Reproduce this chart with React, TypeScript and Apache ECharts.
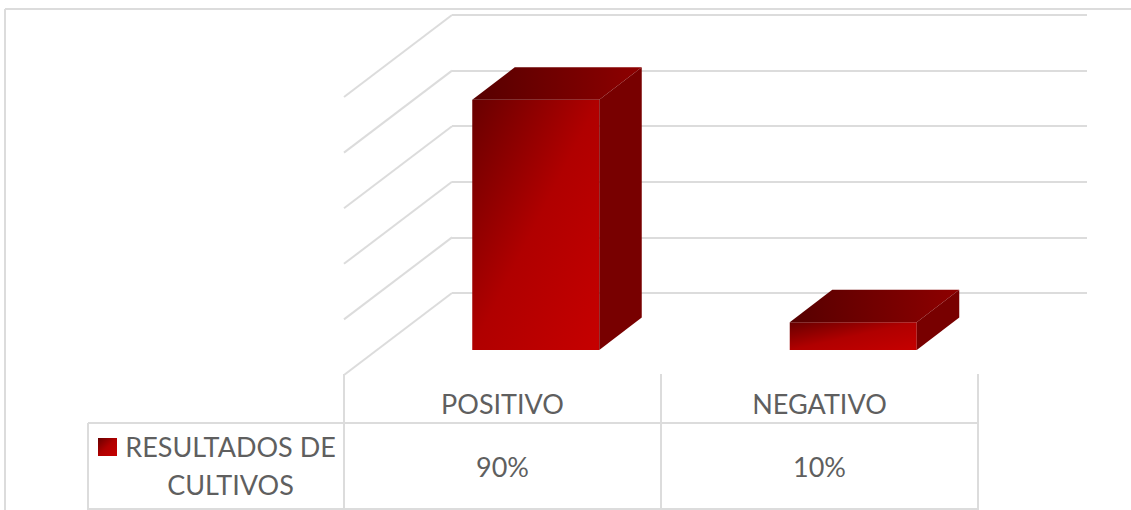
import React, { useEffect, useRef } from "react";
import * as echarts from "echarts";

const categories = ["POSITIVO", "NEGATIVO"];
const values = [90, 10];
const valueLabels = ["90%", "10%"];
const wallTicks = [0, 20, 40, 60, 80, 100];
const legendLines = ["RESULTADOS DE", "CULTIVOS"];

const W = 1131;
const H = 510;
const FONT = "Lato, Carlito, 'Noto Sans', sans-serif";
const GRID = "#dcdcdc";
const TEXT = "#5f5f5f";
const BACK_LEFT = 452;
const BACK_RIGHT = 1087;
const BACK_TOP = 15;
const BACK_H = 278;
const SIDE_DX = 108;
const SIDE_DY = 82;
const BAR_SHIFT_X = 75;
const BAR_SHIFT_Y = 57;
const BAR_HALF = 63.5;
const DEPTH_X = 42.5;
const DEPTH_Y = 32.5;
const CAT_W = 317;
const FRONT_LEFT = 344;

const frontFill = () =>
  new echarts.graphic.LinearGradient(0, 0, 1, 1, [
    { offset: 0, color: "#680000" },
    { offset: 0.5, color: "#b00000" },
    { offset: 1, color: "#c60000" },
  ]);
const topFill = () =>
  new echarts.graphic.LinearGradient(0, 0, 1, 0, [
    { offset: 0, color: "#560000" },
    { offset: 1, color: "#8e0000" },
  ]);

function line(x1: number, y1: number, x2: number, y2: number) {
  return {
    type: "line",
    silent: true,
    shape: { x1, y1, x2, y2 },
    style: { stroke: GRID, lineWidth: 2 },
  };
}

function label(text: string, x: number, y: number) {
  return {
    type: "text",
    silent: true,
    x,
    y,
    style: {
      text,
      fontFamily: FONT,
      fontSize: 27,
      fill: TEXT,
      textAlign: "center",
      textVerticalAlign: "middle",
    },
  };
}

export default function App() {
  const ref = useRef<HTMLDivElement>(null);
  useEffect(() => {
    document.body.style.margin = "0";
    const chart = echarts.init(ref.current!, undefined, { renderer: "svg" });
    const colX = categories.map((_, i) => FRONT_LEFT + CAT_W * (i + 0.5));
    chart.setOption({
      animation: false,
      backgroundColor: "#ffffff",
      grid: {
        left: BACK_LEFT,
        right: W - BACK_RIGHT,
        top: BACK_TOP,
        height: BACK_H,
      },
      xAxis: {
        type: "category",
        data: categories,
        axisLine: { show: false },
        axisTick: { show: false },
        axisLabel: { show: false },
      },
      yAxis: {
        type: "value",
        min: 0,
        max: 100,
        interval: 20,
        axisLine: { show: false },
        axisTick: { show: false },
        axisLabel: { show: false },
        splitLine: { show: true, lineStyle: { color: GRID, width: 2 } },
      },
      series: [
        {
          type: "custom",
          silent: true,
          coordinateSystem: "cartesian2d",
          data: wallTicks.map((t) => [0, t]),
          encode: { x: 0, y: 1 },
          clip: false,
          renderItem: (_p: any, api: any) => {
            const y = api.coord([0, api.value(1)])[1];
            return {
              type: "line",
              shape: {
                x1: BACK_LEFT,
                y1: y,
                x2: BACK_LEFT - SIDE_DX,
                y2: y + SIDE_DY,
              },
              style: { stroke: GRID, lineWidth: 2 },
            };
          },
        },
        {
          type: "custom",
          silent: true,
          coordinateSystem: "cartesian2d",
          data: values.map((v, i) => [i, v]),
          encode: { x: 0, y: 1 },
          clip: false,
          renderItem: (_p: any, api: any) => {
            const cat = api.value(0);
            const top = api.coord([cat, api.value(1)]);
            const base = api.coord([cat, 0]);
            const x1 = top[0] - BAR_SHIFT_X - BAR_HALF;
            const x2 = top[0] - BAR_SHIFT_X + BAR_HALF;
            const yt = top[1] + BAR_SHIFT_Y;
            const yb = base[1] + BAR_SHIFT_Y;
            return {
              type: "group",
              children: [
                {
                  type: "polygon",
                  shape: {
                    points: [
                      [x1, yt],
                      [x2, yt],
                      [x2, yb],
                      [x1, yb],
                    ],
                  },
                  style: { fill: frontFill() },
                },
                {
                  type: "polygon",
                  shape: {
                    points: [
                      [x1, yt],
                      [x1 + DEPTH_X, yt - DEPTH_Y],
                      [x2 + DEPTH_X, yt - DEPTH_Y],
                      [x2, yt],
                    ],
                  },
                  style: { fill: topFill() },
                },
                {
                  type: "polygon",
                  shape: {
                    points: [
                      [x2, yt],
                      [x2 + DEPTH_X, yt - DEPTH_Y],
                      [x2 + DEPTH_X, yb - DEPTH_Y],
                      [x2, yb],
                    ],
                  },
                  style: { fill: "#780000" },
                },
              ],
            };
          },
        },
      ],
      graphic: {
        elements: [
          line(5, 9, W, 9),
          line(5, 9, 5, H),
          line(FRONT_LEFT, 374, FRONT_LEFT, H),
          line(FRONT_LEFT + CAT_W, 374, FRONT_LEFT + CAT_W, H),
          line(FRONT_LEFT + 2 * CAT_W, 374, FRONT_LEFT + 2 * CAT_W, H),
          line(88, 423, FRONT_LEFT + 2 * CAT_W, 423),
          line(88, 423, 88, H),
          line(88, 509, FRONT_LEFT + 2 * CAT_W, 509),
          {
            type: "rect",
            silent: true,
            shape: { x: 98, y: 438, width: 19, height: 18 },
            style: { fill: frontFill() },
          },
          label(legendLines[0], 230.5, 446),
          label(legendLines[1], 230.5, 484),
          ...categories.map((c, i) => label(c, colX[i], 403)),
          ...valueLabels.map((c, i) => label(c, colX[i], 466)),
        ],
      },
    });
    return () => chart.dispose();
  }, []);
  return <div ref={ref} style={{ width: W, height: H }} />;
}
